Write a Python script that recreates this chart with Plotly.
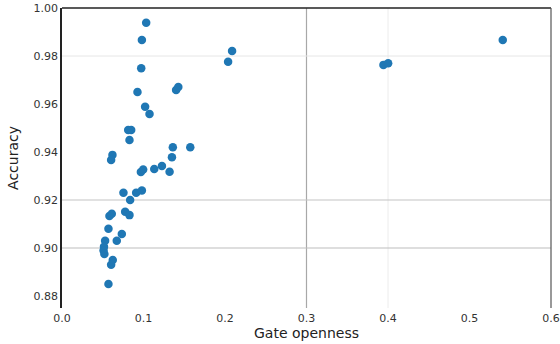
import plotly.graph_objects as go

gate_openness = [0.1033, 0.0980, 0.0972, 0.0926, 0.1020, 0.1074, 0.1400, 0.1427,
                 0.0812, 0.0849, 0.0828, 0.1360, 0.1574, 0.1349, 0.0968, 0.0996,
                 0.1132, 0.1226, 0.1320, 0.0619, 0.0603, 0.0754, 0.0836, 0.0910,
                 0.0980, 0.0582, 0.0611, 0.0775, 0.0828, 0.0570, 0.0734, 0.0672,
                 0.0529, 0.0515, 0.0510, 0.0520, 0.0623, 0.0603, 0.0570, 0.2087,
                 0.2038, 0.3944, 0.4002, 0.5408]
accuracy = [0.9939, 0.9867, 0.9749, 0.9650, 0.9589, 0.9558, 0.9658, 0.9671,
            0.9492, 0.9492, 0.9450, 0.9420, 0.9420, 0.9378, 0.9317, 0.9327,
            0.9329, 0.9342, 0.9318, 0.9388, 0.9367, 0.9230, 0.9200, 0.9230,
            0.9240, 0.9133, 0.9143, 0.9151, 0.9137, 0.9080, 0.9058, 0.9030,
            0.9030, 0.9005, 0.8990, 0.8975, 0.8950, 0.8930, 0.8850, 0.9821,
            0.9776, 0.9763, 0.9770, 0.9867]

x_ticks = [0.0, 0.1, 0.2, 0.3, 0.4, 0.5, 0.6]
x_tick_labels = ["0.0", "0.1", "0.2", "0.3", "0.4", "0.5", "0.6"]
y_ticks = [0.88, 0.90, 0.92, 0.94, 0.96, 0.98, 1.00]
y_tick_labels = ["0.88", "0.90", "0.92", "0.94", "0.96", "0.98", "1.00"]

fig = go.Figure()
fig.add_trace(go.Scatter(
    x=gate_openness, y=accuracy, mode="markers",
    marker=dict(color="#1f77b4", size=8.5, line=dict(width=0)),
    showlegend=False, cliponaxis=False,
))

# selective grid lines as seen in the reference
vgrid = [(0.3, "#a8a8a8", 1.2), (0.4, "#ececec", 1)]
hgrid = [(0.90, "#bdbdbd", 1.2), (0.92, "#c4c4c4", 1.2), (0.98, "#e6e6e6", 1)]
for xv, c, w in vgrid:
    fig.add_shape(type="line", xref="x", yref="paper", x0=xv, x1=xv, y0=0, y1=1,
                  line=dict(color=c, width=w), layer="below")
for yv, c, w in hgrid:
    fig.add_shape(type="line", xref="paper", yref="y", x0=0, x1=1, y0=yv, y1=yv,
                  line=dict(color=c, width=w), layer="below")
# top and right spines
fig.add_shape(type="line", xref="paper", yref="paper", x0=0, x1=1, y0=1, y1=1,
              line=dict(color="#222222", width=1.5))
fig.add_shape(type="line", xref="paper", yref="paper", x0=1, x1=1, y0=0, y1=1,
              line=dict(color="#555555", width=1.2))

font = "DejaVu Sans"
fig.update_layout(
    width=560, height=344,
    margin=dict(l=62, r=9, t=8, b=36, autoexpand=False),
    paper_bgcolor="white", plot_bgcolor="white",
    font=dict(family=font, color="#333333", size=11),
    xaxis=dict(range=[0, 0.6], tickvals=x_ticks, ticktext=x_tick_labels,
               showgrid=False, zeroline=False, showline=False, ticks="",
               automargin=False, ticklabelstandoff=2,
               title=dict(text="Gate openness", font=dict(size=14, color="#222222"), standoff=2),
               tickfont=dict(size=11, color="#333333")),
    yaxis=dict(range=[0.875, 1.0], tickvals=y_ticks, ticktext=y_tick_labels,
               showgrid=False, zeroline=False, showline=True, linecolor="#222222",
               linewidth=1.5, ticks="", automargin=False,
               title=dict(text="Accuracy", font=dict(size=14, color="#222222"), standoff=12),
               tickfont=dict(size=11, color="#333333")),
)

fig.write_html("out.html", post_script="document.body.style.margin='0px';",
               config={"displayModeBar": False})
